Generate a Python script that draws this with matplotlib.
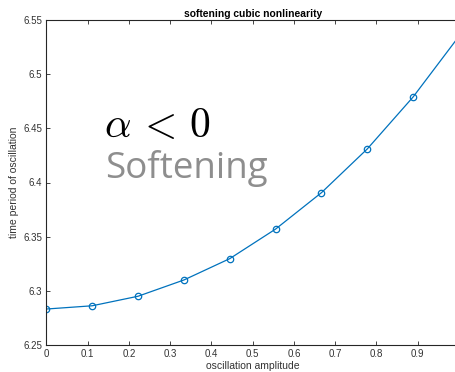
import matplotlib
matplotlib.use("Agg")
import matplotlib.pyplot as plt
import numpy as np

# oscillation amplitude samples and corresponding time period
amplitude = [0.0, 1/9, 2/9, 3/9, 4/9, 5/9, 6/9, 7/9, 8/9, 1.0]
period = [6.2832, 6.2862, 6.2950, 6.3100, 6.3297, 6.3570, 6.3906, 6.4310, 6.4790, 6.5350]

xticks = [0, 0.1, 0.2, 0.3, 0.4, 0.5, 0.6, 0.7, 0.8, 0.9, 1.0]
xticklabels = ["0", "0.1", "0.2", "0.3", "0.4", "0.5", "0.6", "0.7", "0.8", "0.9", ""]
yticks = [6.25, 6.3, 6.35, 6.4, 6.45, 6.5, 6.55]
yticklabels = ["6.25", "6.3", "6.35", "6.4", "6.45", "6.5", "6.55"]

plt.rcParams["font.family"] = ["Liberation Sans", "DejaVu Sans"]
plt.rcParams["mathtext.fontset"] = "cm"

fig = plt.figure(figsize=(4.55, 3.72), dpi=100)
ax = fig.add_axes([46.3/455, 1-345/372, (459-46.3)/455, (345-20)/372])

ax.plot(amplitude, period, color="#0072BD", lw=0.9, marker="o", ms=4.6,
        mfc="none", mec="#0072BD", mew=0.9, clip_on=True)

ax.set_xlim(0, 1)
ax.set_ylim(6.25, 6.55)
ax.set_xticks(xticks)
ax.set_xticklabels(xticklabels)
ax.set_yticks(yticks)
ax.set_yticklabels(yticklabels)

edge = "#262626"
for s in ax.spines.values():
    s.set_color(edge)
    s.set_linewidth(0.8)
ax.tick_params(direction="in", length=3.2, width=0.6, colors=edge,
               labelsize=7, labelcolor="#333333", top=True, right=True, pad=3)

ax.set_title("softening cubic nonlinearity", fontsize=7.4, fontweight="bold", pad=2.5)
ax.set_xlabel("oscillation amplitude", fontsize=7.5, color="#333333", labelpad=1)
ax.set_ylabel("time period of oscillation", fontsize=7.5, color="#333333", labelpad=3)

ax.text(0.14, 6.442, r"$\alpha\,<\,0$", fontsize=30, color="black", va="baseline", ha="left")
ax.text(0.142, 6.404, "Softening", fontsize=26.5, color="#8e8e8e", va="baseline", ha="left",
        family=["Open Sans", "DejaVu Sans"])

fig.savefig("out.png", dpi=100)
